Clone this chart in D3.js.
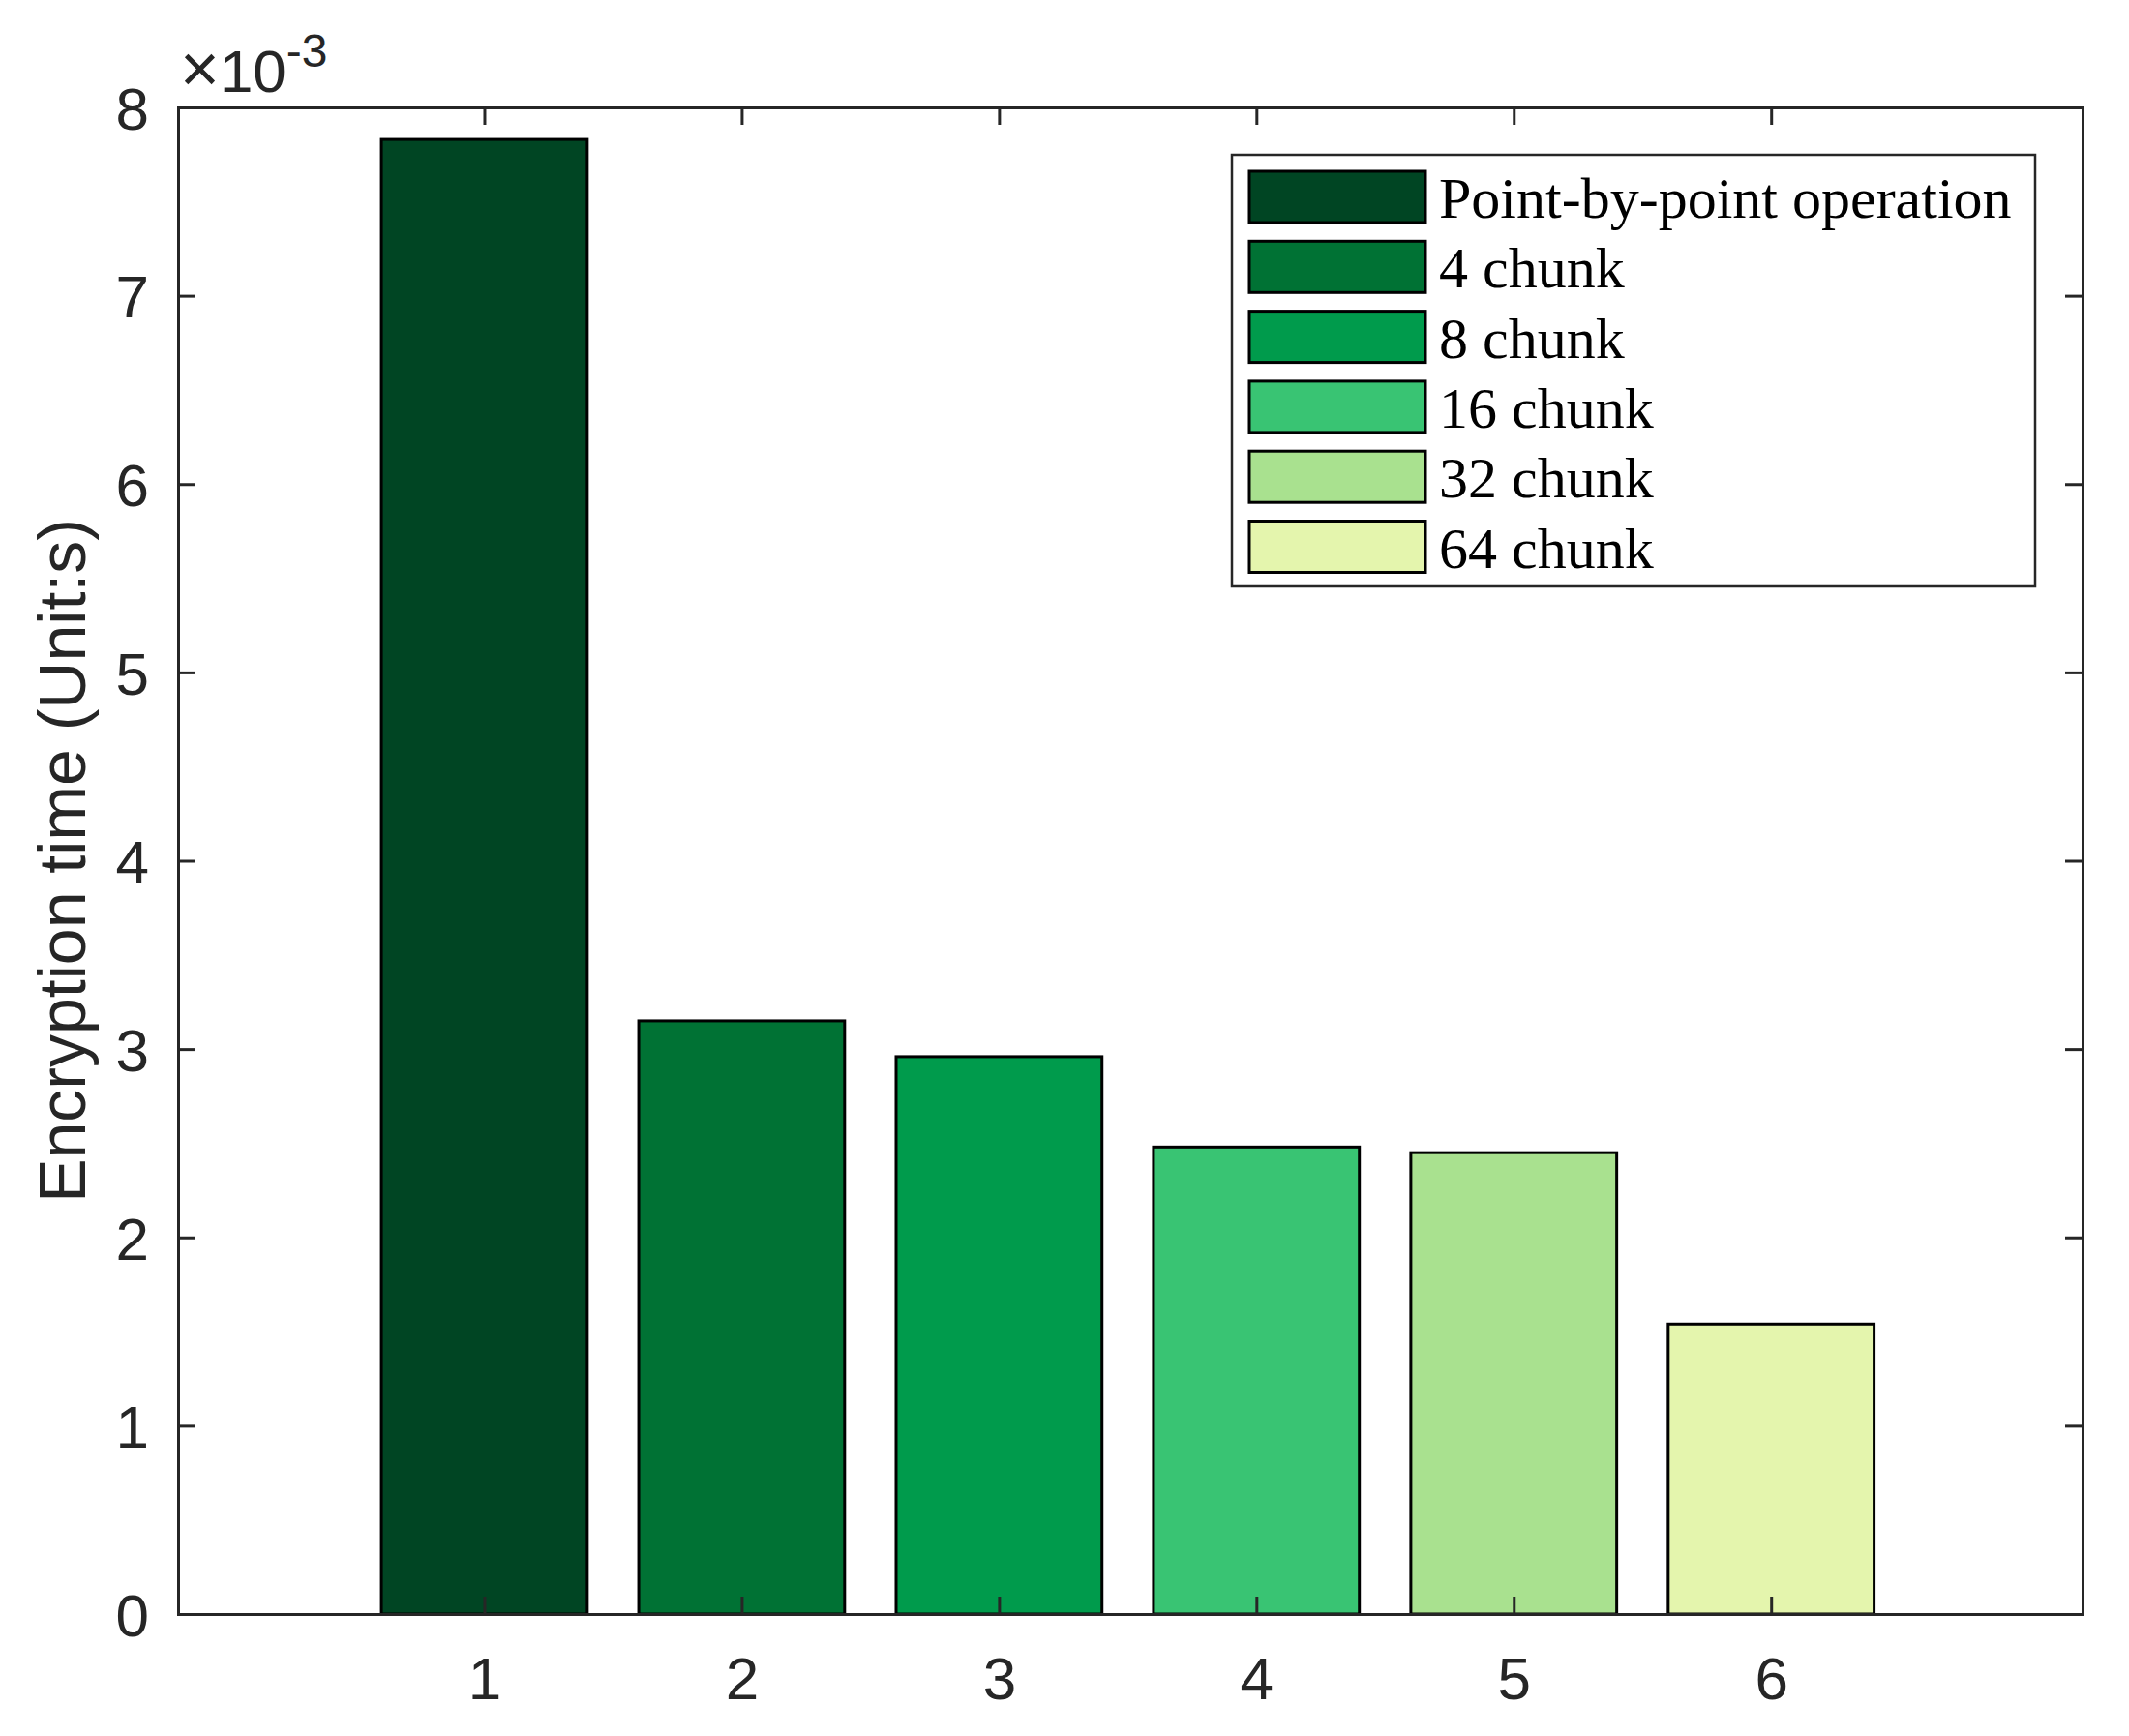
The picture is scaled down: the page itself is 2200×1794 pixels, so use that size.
<!DOCTYPE html>
<head>
    <title>Encryption time</title>
    <script src='https://cdn.jsdelivr.net/npm/d3@7/dist/d3.min.js'></script>
</head>
<style>
    body { margin: 0; background: #fff; }
    .tick text { font-family: 'Liberation Sans', Arial, sans-serif; font-size: 62px; fill: #262626; }
    .legend text { font-family: 'Liberation Serif', 'Times New Roman', serif; font-size: 60px; fill: #000; }
</style>
<body>
    <svg></svg>
</body>

<script>
    // data (values in units of 1e-3 s)
    var categories = [1, 2, 3, 4, 5, 6];
    var seriesNames = ['Point-by-point operation', '4 chunk', '8 chunk', '16 chunk', '32 chunk', '64 chunk'];
    var encTime = [7.83, 3.15, 2.96, 2.48, 2.45, 1.54];
    var yTicks = [0, 1, 2, 3, 4, 5, 6, 7, 8];
    var barColors = ['#004523', '#007234', '#009b4c', '#39c473', '#a9e18f', '#e4f5ad'];

    var vWidth = 2200, vHeight = 1794;
    var mLeft = 184, mRight = 2152, mTop = 111, mBottom = 1668;

    var svg = d3.select('svg')
        .attr('width', vWidth)
        .attr('height', vHeight);

    var x = d3.scaleLinear().domain([-0.19, 7.21]).range([mLeft, mRight]);
    var y = d3.scaleLinear().domain([0, 8]).range([mBottom, mTop]);

    // bars
    svg.selectAll('rect.bar')
        .data(encTime)
        .enter().append('rect')
        .attr('class', 'bar')
        .attr('x', function (d, i) { return x(categories[i] - 0.4); })
        .attr('width', function (d, i) { return x(categories[i] + 0.4) - x(categories[i] - 0.4); })
        .attr('y', function (d) { return y(d); })
        .attr('height', function (d) { return y(0) - y(d); })
        .attr('fill', function (d, i) { return barColors[i]; })
        .attr('stroke', '#000')
        .attr('stroke-width', 3);

    // axes, MATLAB style: inward ticks, box on
    var tickLen = 18;
    var gx = svg.append('g').attr('transform', 'translate(0,' + mBottom + ')')
        .call(d3.axisBottom(x).tickValues(categories).tickSize(-tickLen).tickPadding(44).tickFormat(d3.format('d')));
    var gxTop = svg.append('g').attr('transform', 'translate(0,' + mTop + ')')
        .call(d3.axisTop(x).tickValues(categories).tickSize(-tickLen).tickFormat(''));
    var gy = svg.append('g').attr('transform', 'translate(' + mLeft + ',0)')
        .call(d3.axisLeft(y).tickValues(yTicks).tickSize(-tickLen).tickPadding(30).tickFormat(d3.format('d')));
    var gyRight = svg.append('g').attr('transform', 'translate(' + mRight + ',0)')
        .call(d3.axisRight(y).tickValues(yTicks).tickSize(-tickLen).tickFormat(''));

    [gx, gxTop, gy, gyRight].forEach(function (g) {
        g.select('.domain').attr('stroke', '#262626').attr('stroke-width', 3);
        g.selectAll('.tick line').attr('stroke', '#262626').attr('stroke-width', 3);
    });
    gy.selectAll('.tick text').attr('dy', '0.36em');
    gx.selectAll('.tick text').attr('fill', '#000');
    // the 0 and 8 ticks sit on the box lines
    gy.selectAll('.tick line').filter(function (d) { return d === 0 || d === 8; }).remove();
    gyRight.selectAll('.tick line').filter(function (d) { return d === 0 || d === 8; }).remove();

    // exponent label
    var expo = svg.append('text')
        .attr('x', mLeft + 2)
        .attr('y', mTop - 16)
        .style('font-family', "'Liberation Sans', Arial, sans-serif")
        .style('font-size', '62px')
        .attr('fill', '#262626');
    expo.append('tspan').text('\u00d7').style('font-size', '70px');
    expo.append('tspan').text('10');
    expo.append('tspan').attr('dy', -26).style('font-size', '48px').text('-3');

    // y label
    svg.append('text')
        .attr('transform', 'translate(' + 88 + ',' + ((mTop + mBottom) / 2) + ') rotate(-90)')
        .attr('text-anchor', 'middle')
        .style('font-family', "'Liberation Sans', Arial, sans-serif")
        .style('font-size', '68px')
        .attr('fill', '#262626')
        .text('Encryption time (Unit:s)');

    // legend
    var legX = 1273, legY = 160, legW = 830, legH = 446;
    var rowStep = 72.3;
    var lg = svg.append('g').attr('class', 'legend');
    lg.append('rect')
        .attr('x', legX).attr('y', legY)
        .attr('width', legW).attr('height', legH)
        .attr('fill', '#fff').attr('stroke', '#262626').attr('stroke-width', 2.5);
    var rows = lg.selectAll('g.row')
        .data(seriesNames)
        .enter().append('g')
        .attr('class', 'row')
        .attr('transform', function (d, i) { return 'translate(' + (legX + 18) + ',' + (legY + 17 + i * rowStep) + ')'; });
    rows.append('rect')
        .attr('width', 182).attr('height', 53)
        .attr('fill', function (d, i) { return barColors[i]; })
        .attr('stroke', '#000').attr('stroke-width', 3);
    rows.append('text')
        .attr('x', 196)
        .attr('y', 48)
        .text(function (d) { return d; });
</script>
